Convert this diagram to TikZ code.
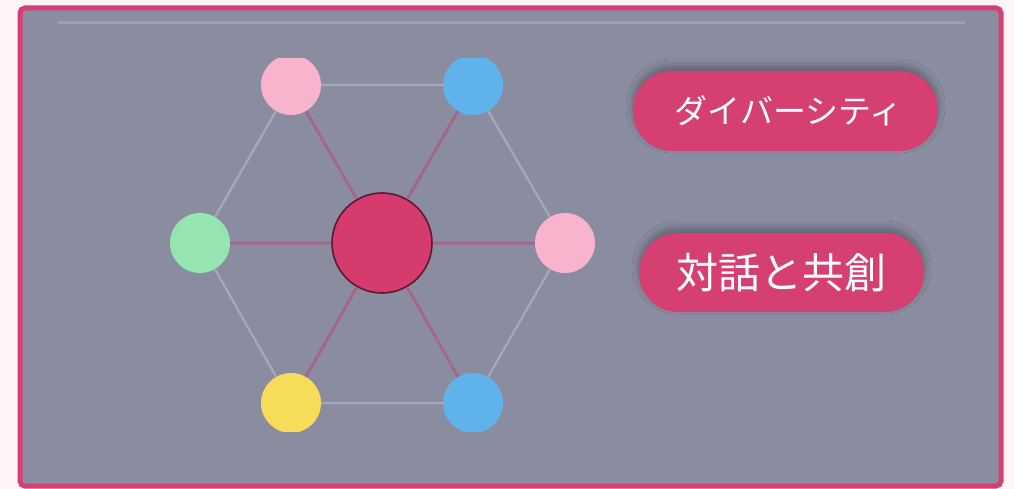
\documentclass[tikz,border=0pt]{standalone}
\usepackage{fontspec}
\newfontfamily\jpfont{Noto Sans CJK JP}
\usetikzlibrary{shadows.blur}
\definecolor{pagebg}{HTML}{FFF4F7}
\definecolor{panel}{HTML}{8A8DA0}
\definecolor{framec}{HTML}{D63F72}
\definecolor{topline}{HTML}{9C9FB0}
\definecolor{edgec}{HTML}{A6A9BA}
\definecolor{spokec}{HTML}{A3678A}
\definecolor{hubc}{HTML}{D63B6E}
\definecolor{hubline}{HTML}{5E1830}
\definecolor{pinkc}{HTML}{F8B4CC}
\definecolor{bluec}{HTML}{5FB2EA}
\definecolor{greenc}{HTML}{96E4B2}
\definecolor{yellowc}{HTML}{F6DC58}
\definecolor{pillc}{HTML}{D63F72}
\tikzset{
  dot/.style={circle, minimum size=60pt, inner sep=0pt, draw=none},
  hub/.style={circle, minimum size=100pt, inner sep=0pt, fill=hubc, draw=hubline, line width=1.6pt},
  rim/.style={draw=edgec, line width=2.2pt},
  spoke/.style={draw=spokec, line width=3pt},
  pill/.style={fill=pillc, rounded corners=39pt, text=white, inner sep=0pt,
    blur shadow={shadow xshift=0pt, shadow yshift=5pt, shadow blur radius=7pt, shadow opacity=30}},
}
\begin{document}
\begin{tikzpicture}[x=1pt,y=-1pt]
\useasboundingbox (0,0) rectangle (1014,489);
\fill[pagebg] (0,0) rectangle (1014,489);
\draw[fill=panel, draw=framec, line width=5pt, rounded corners=5pt] (20,8) rectangle (1001,486);
\draw[topline, line width=3pt] (58,23) -- (965,23);
\begin{scope}
\clip (22,59) rectangle (1000,431);
\node[hub] (c) at (382,243) {};
\node[dot, fill=pinkc] (tl) at (291,85) {};
\node[dot, fill=bluec] (tr) at (473,85) {};
\node[dot, fill=greenc] (l) at (200,243) {};
\node[dot, fill=pinkc] (r) at (565,243) {};
\node[dot, fill=yellowc] (bl) at (291,403) {};
\node[dot, fill=bluec] (br) at (473,403) {};
\path[rim] (tl) -- (tr) (tr) -- (r) (r) -- (br) (br) -- (bl) (bl) -- (l) (l) -- (tl);
\path[spoke] (c) -- (tl) (c) -- (tr) (c) -- (l) (c) -- (r) (c) -- (bl) (c) -- (br);
\end{scope}
\node[pill, minimum width=305pt, minimum height=80pt] (p1) at (785.5,111)
  {\hspace*{6pt}\jpfont\fontsize{33}{38}\selectfont ダイバーシティ};
\node[pill, minimum width=285pt, minimum height=79pt] (p2) at (781.5,272.5)
  {\jpfont\fontsize{42}{48}\selectfont 対話と共創};
\end{tikzpicture}
\end{document}
